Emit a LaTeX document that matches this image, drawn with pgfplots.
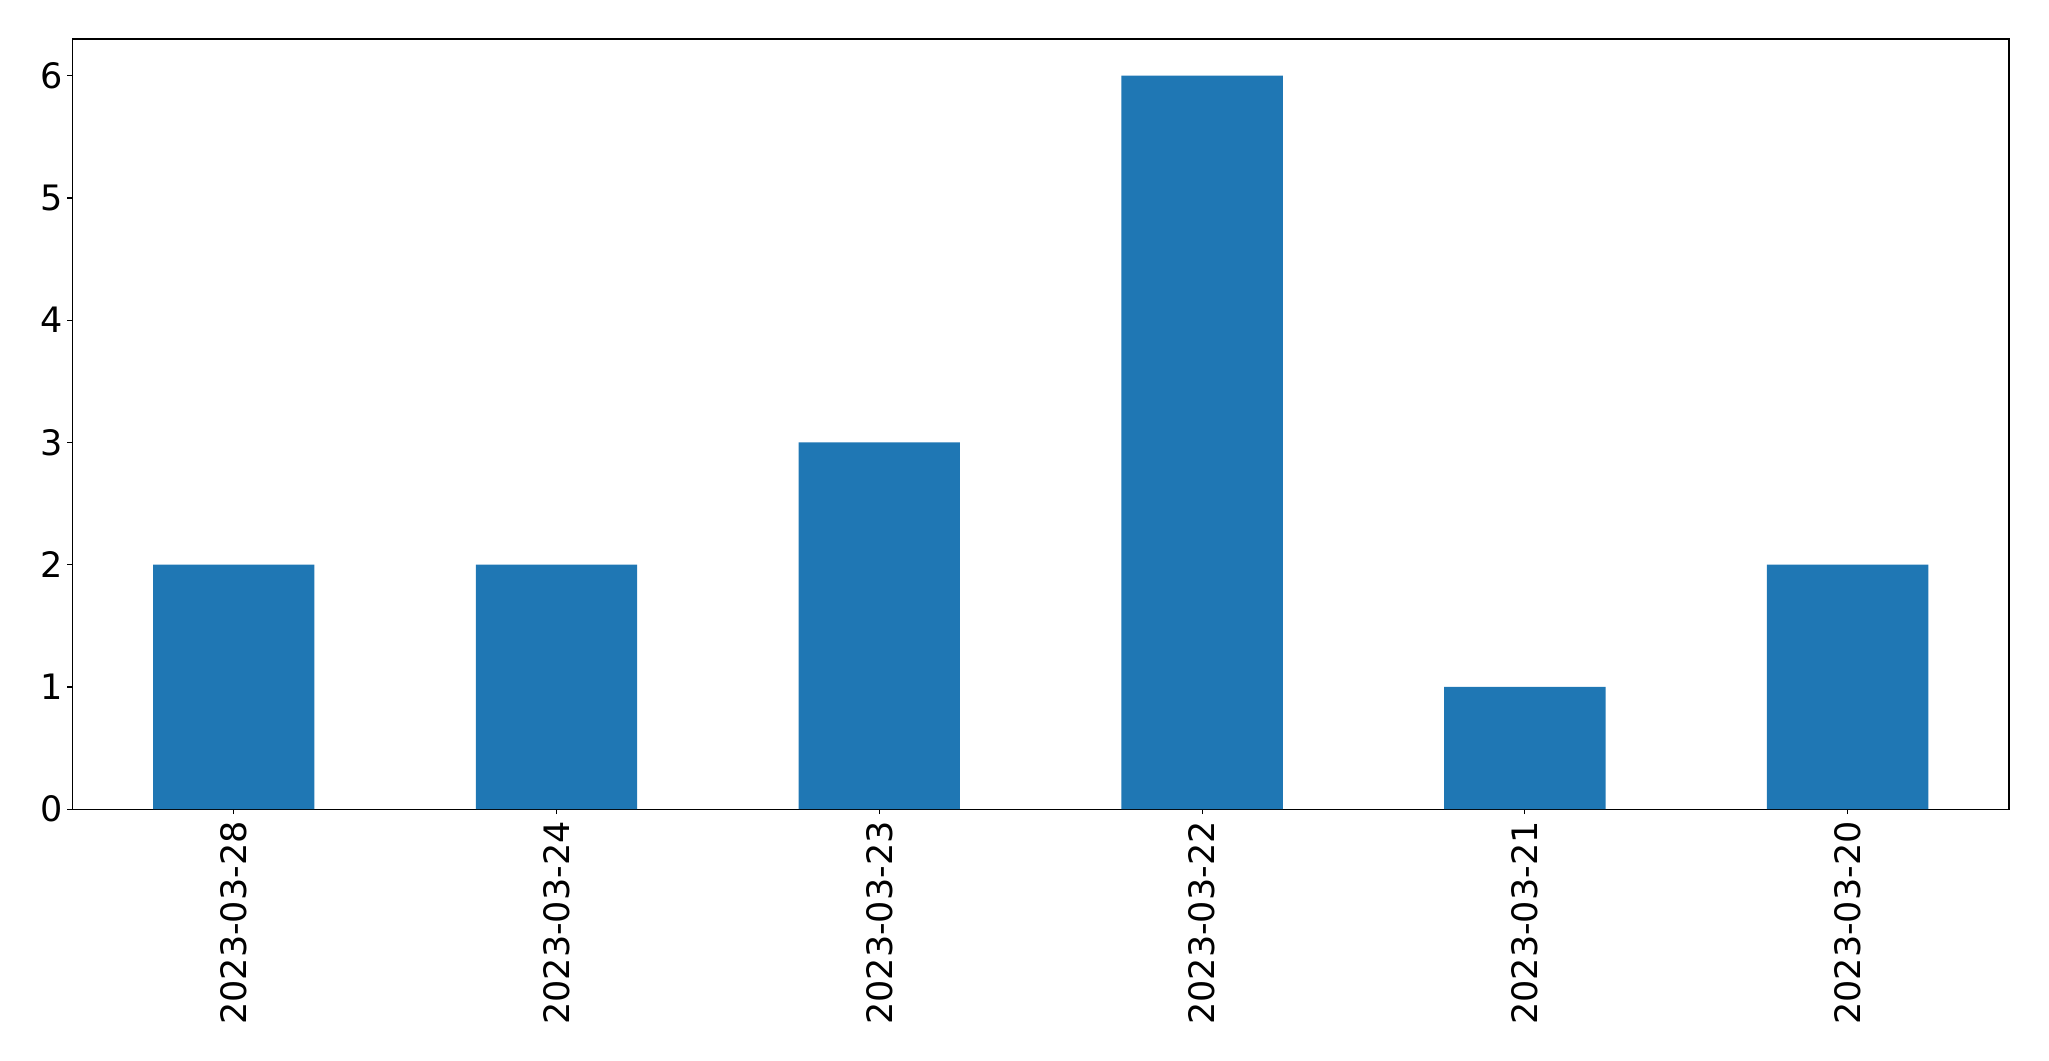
\documentclass[border=0pt]{standalone}
\usepackage{pgfplots}
\pgfplotsset{compat=1.18}
\usepackage{fontspec}
\setmainfont{DejaVu Sans}
\definecolor{mplblue}{HTML}{1F77B4}
\begin{document}
\begin{tikzpicture}
\begin{axis}[
  name=ax,
  scale only axis,
  width=1394.6pt, height=554.6pt,
  xmin=-0.5, xmax=5.5, ymin=0, ymax=6.3,
  axis line style={line width=0.8pt},
  every tick/.style={line width=0.8pt, black},
  tick align=outside, tick pos=left,
  major tick length=3.5pt,
  xtick={0,1,2,3,4,5},
  xticklabels={2023-03-28,2023-03-24,2023-03-23,2023-03-22,2023-03-21,2023-03-20},
  ytick={0,1,2,3,4,5,6},
  /pgf/number format/assume math mode=true,
  tick label style={font=\fontsize{25.2}{30}\selectfont},
  xticklabel style={yshift=-5pt, rotate=90, anchor=east, inner sep=0pt},
  yticklabel style={xshift=-3.4pt, anchor=east, inner sep=0pt},
  ybar, bar width=0.5, bar shift=0pt,
]
\addplot[fill=mplblue, draw=none] coordinates {(0,2) (1,2) (2,3) (3,6) (4,1) (5,2)};
\end{axis}
\useasboundingbox ([xshift=-52.1pt,yshift=-181.2pt]ax.south west) rectangle ([xshift=28.8pt,yshift=28.1pt]ax.north east);
\end{tikzpicture}
\end{document}
